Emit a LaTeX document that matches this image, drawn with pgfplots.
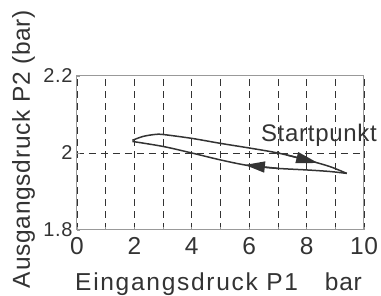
\documentclass[border=0pt]{standalone}
\usepackage{fontspec}
\setmainfont{Liberation Sans}[LetterSpace=3]
\newfontfamily\widefont{Liberation Sans}[LetterSpace=7]
\usepackage{pgfplots}
\pgfplotsset{compat=1.18}
\usetikzlibrary{arrows.meta}
\definecolor{ink}{HTML}{333333}
\definecolor{frame}{HTML}{999999}
\begin{document}
\begin{tikzpicture}
\path[use as bounding box] (-77pt,-66pt) rectangle (304pt,230pt);
\begin{axis}[
  at={(0pt,0pt)}, anchor=south west,
  scale only axis, width=287pt, height=154pt,
  xmin=0, xmax=10, ymin=1.8, ymax=2.2,
  xtick={0,2,...,10}, minor xtick={1,3,...,9},
  ytick={1.8,2,2.2},
  xmajorgrids, xminorgrids,
  extra y ticks={2}, extra y tick labels={}, extra y tick style={grid=major},
  major grid style={ink, line width=0.7pt, dash pattern=on 7pt off 5pt},
  minor grid style={ink, line width=0.7pt, dash pattern=on 7pt off 5pt},
  major tick length=3pt, minor tick length=3pt,
  tick pos=left, tick align=inside,
  every tick/.style={frame, line width=0.6pt},
  axis line style={frame, line width=1pt},
  /pgf/number format/assume math mode=true,
  xticklabel style={font=\fontsize{24.5}{27}\selectfont, text=ink, yshift=-4pt},
  yticklabel style={font=\fontsize{20}{24}\selectfont, text=ink, xshift=-1pt},
  clip=false,
]
% upper branch (left to right)
\addplot[ink, line width=1.5pt, smooth, tension=0.5] coordinates {
(1.93,2.033) (2.3,2.043) (2.7,2.048) (3.0,2.048) (4,2.038) (5,2.025) (6,2.013) (7,2.0) (8,1.982) (8.8,1.965) (9.4,1.947)};
% lower branch (right to left)
\addplot[ink, line width=1.5pt, smooth, tension=0.5] coordinates {
(9.4,1.947) (8.8,1.952) (8,1.956) (7,1.960) (6,1.967) (5,1.982) (4,2.0) (3,2.017) (1.93,2.030)};
% arrows
\addplot[ink, line width=1.5pt, -{Triangle[length=22pt,width=11pt]}] coordinates {(7.3,1.995) (8.4,1.974)};
\addplot[ink, line width=1.5pt, -{Triangle[length=20pt,width=11pt]}] coordinates {(7.0,1.960) (5.85,1.969)};
% start point
\addplot[ink, only marks, mark=*, mark size=1.8pt] coordinates {(7,2.0)};
\node[anchor=base, inner sep=0pt, font=\fontsize{24}{27}\selectfont, text=ink] at (axis cs:8.43,2.029) {Startpunkt};
\node[anchor=base west, inner sep=0pt, font=\widefont\fontsize{24.5}{27}\selectfont, text=ink] at ([xshift=-2pt,yshift=-61pt]rel axis cs:0,0) {Eingangsdruck P1};
\node[anchor=base east, inner sep=0pt, font=\fontsize{24.5}{27}\selectfont, text=ink] at ([xshift=-2pt,yshift=-61pt]rel axis cs:1,0) {bar};
\node[rotate=90, anchor=base, inner sep=0pt, font=\fontsize{24.5}{27}\selectfont, text=ink] at ([xshift=-47pt,yshift=4pt]rel axis cs:0,0.5) {Ausgangsdruck P2 (bar)};
\end{axis}
\end{tikzpicture}
\end{document}
